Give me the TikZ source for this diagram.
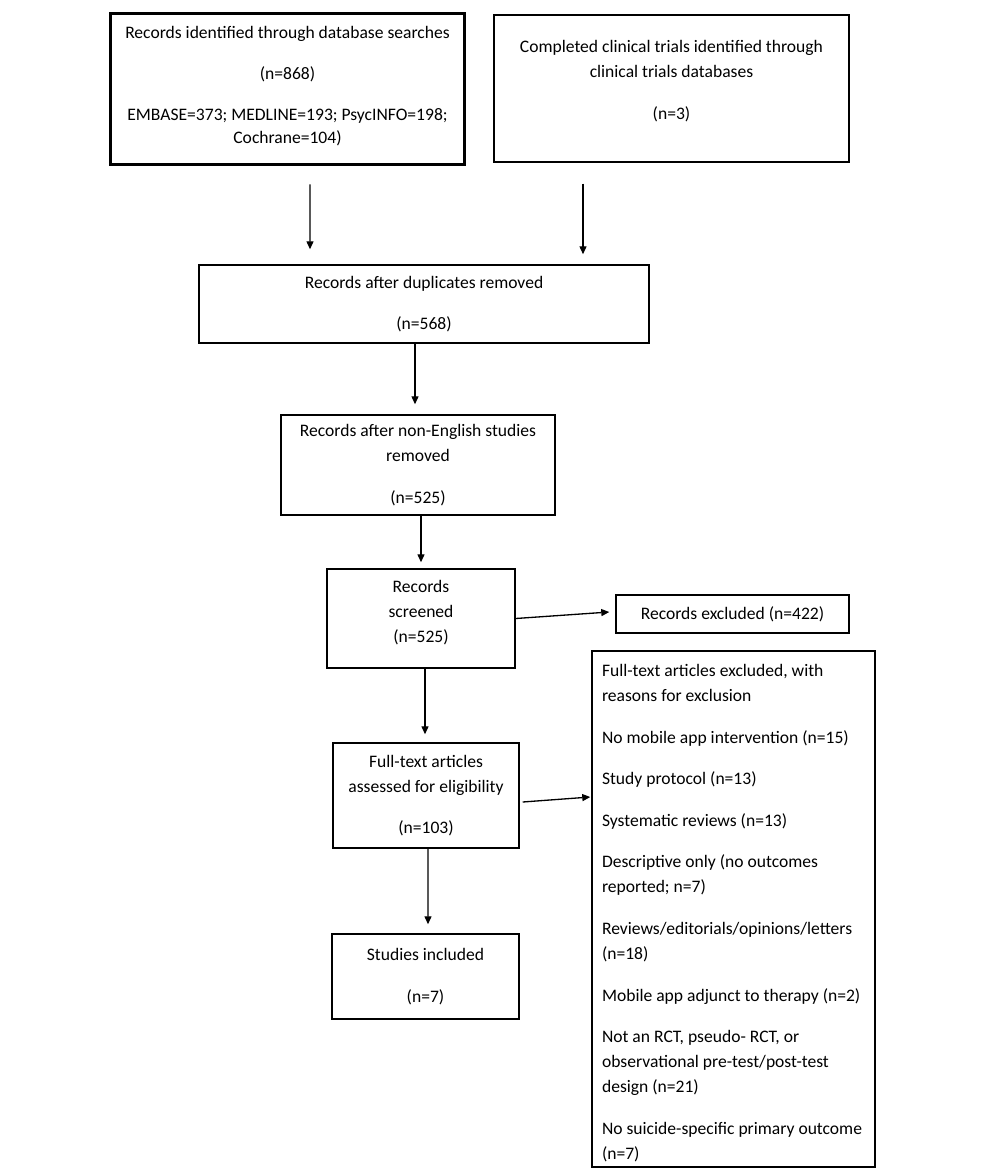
\documentclass[tikz,border=0pt]{standalone}
\usepackage{fontspec}
\setmainfont{Carlito}
\usepackage{tikz}
\usetikzlibrary{arrows.meta,calc,positioning}
\tikzset{
  box/.style ={rectangle, draw=black, line width=0.85pt, align=center,
               inner sep=0.15cm, font=\fontsize{10}{14.2}\selectfont},
  tbox/.style={box, line width=1.7pt},
  lbox/.style={box, align=flush left, text width=5.26cm, inner xsep=0.2cm, inner ysep=0.08cm},
  flow/.style={-{Triangle[length=1.6mm,width=1.4mm]}, line width=0.75pt}
}
\newcommand{\pgap}{\\[9.5pt]}

\begin{document}
\begin{tikzpicture}[x=0.02cm, y=-0.02cm]
\useasboundingbox (0,0) rectangle (1000,1171);
% sources
\node[tbox, minimum width=7.1cm, minimum height=3.04cm] (search) at (287.5,89)
  {Records identified through database searches\\[9pt] (n=868)\\[9pt]
   EMBASE=373; MEDLINE=193; PsycINFO=198;\\[-0.8pt] Cochrane=104)\\[-0.34cm]};
\node[box, minimum width=7.1cm, minimum height=2.94cm] (trials) at (671.5,88.5)
  {Completed clinical trials identified through\\ clinical trials databases\pgap (n=3)\\[-0.16cm]};

% screening
\node[box, minimum width=9.0cm, minimum height=1.56cm] (dup) at (424,304)
  {Records after duplicates removed\pgap (n=568)};
\node[box, minimum width=5.48cm, minimum height=2.0cm] (nonen) at (418,465)
  {Records after non-English studies\\ removed\pgap (n=525)};
\node[box, minimum width=3.76cm, minimum height=1.98cm] (screen) at (421,618.5)
  {Records\\ screened\\ (n=525)\\[-0.22cm]};
\node[box, minimum width=4.66cm, minimum height=0.76cm] (excl) at (732.5,614)
  {Records excluded (n=422)};

% eligibility
\node[box, minimum width=3.72cm, minimum height=2.1cm] (fulltext) at (426,795.5)
  {Full-text articles\\ assessed for eligibility\pgap (n=103)};
\node[lbox, minimum height=10.32cm] (reasons) at (733.5,909)
  {\rule{0pt}{11.5pt}Full-text articles excluded, with\\ reasons for exclusion\pgap
   No mobile app intervention (n=15)\pgap
   Study protocol (n=13)\pgap
   Systematic reviews (n=13)\pgap
   Descriptive only (no outcomes\\ reported; n=7)\pgap
   Reviews/editorials/opinions/letters\\ (n=18)\pgap
   Mobile app adjunct to therapy (n=2)\pgap
   Not an RCT, pseudo- RCT, or\\ observational pre-test/post-test\\ design (n=21)\pgap
   No suicide-specific primary outcome\\ (n=7)};
\node[box, minimum width=3.74cm, minimum height=1.7cm] (incl) at (425.5,976.5)
  {Studies included\pgap (n=7)};

% arrows
\draw[flow] ($(search.south)+(22.5,18)$) -- ($(dup.north)+(-114,-15)$);
\draw[flow] ($(trials.south)+(-88.5,21)$) -- ($(dup.north)+(159,-10)$);
\draw[flow] ($(dup.south)+(-9,0)$) -- ($(nonen.north)+(-3,-10)$);
\draw[flow] ($(nonen.south)+(3,0)$) -- ($(screen.north)+(0,-6)$);
\draw[flow] (screen.east) -- ($(excl.west)+(-6,-2)$);
\draw[flow] ($(screen.south)+(4,0)$) -- ($(fulltext.north)+(-1,-8)$);
\draw[flow] ($(fulltext.east)+(3,6.5)$) -- ($(reasons.west)+(-1,-112)$);
\draw[flow] ($(fulltext.south)+(2,0)$) -- ($(incl.north)+(2.5,-9)$);
\end{tikzpicture}
\end{document}
